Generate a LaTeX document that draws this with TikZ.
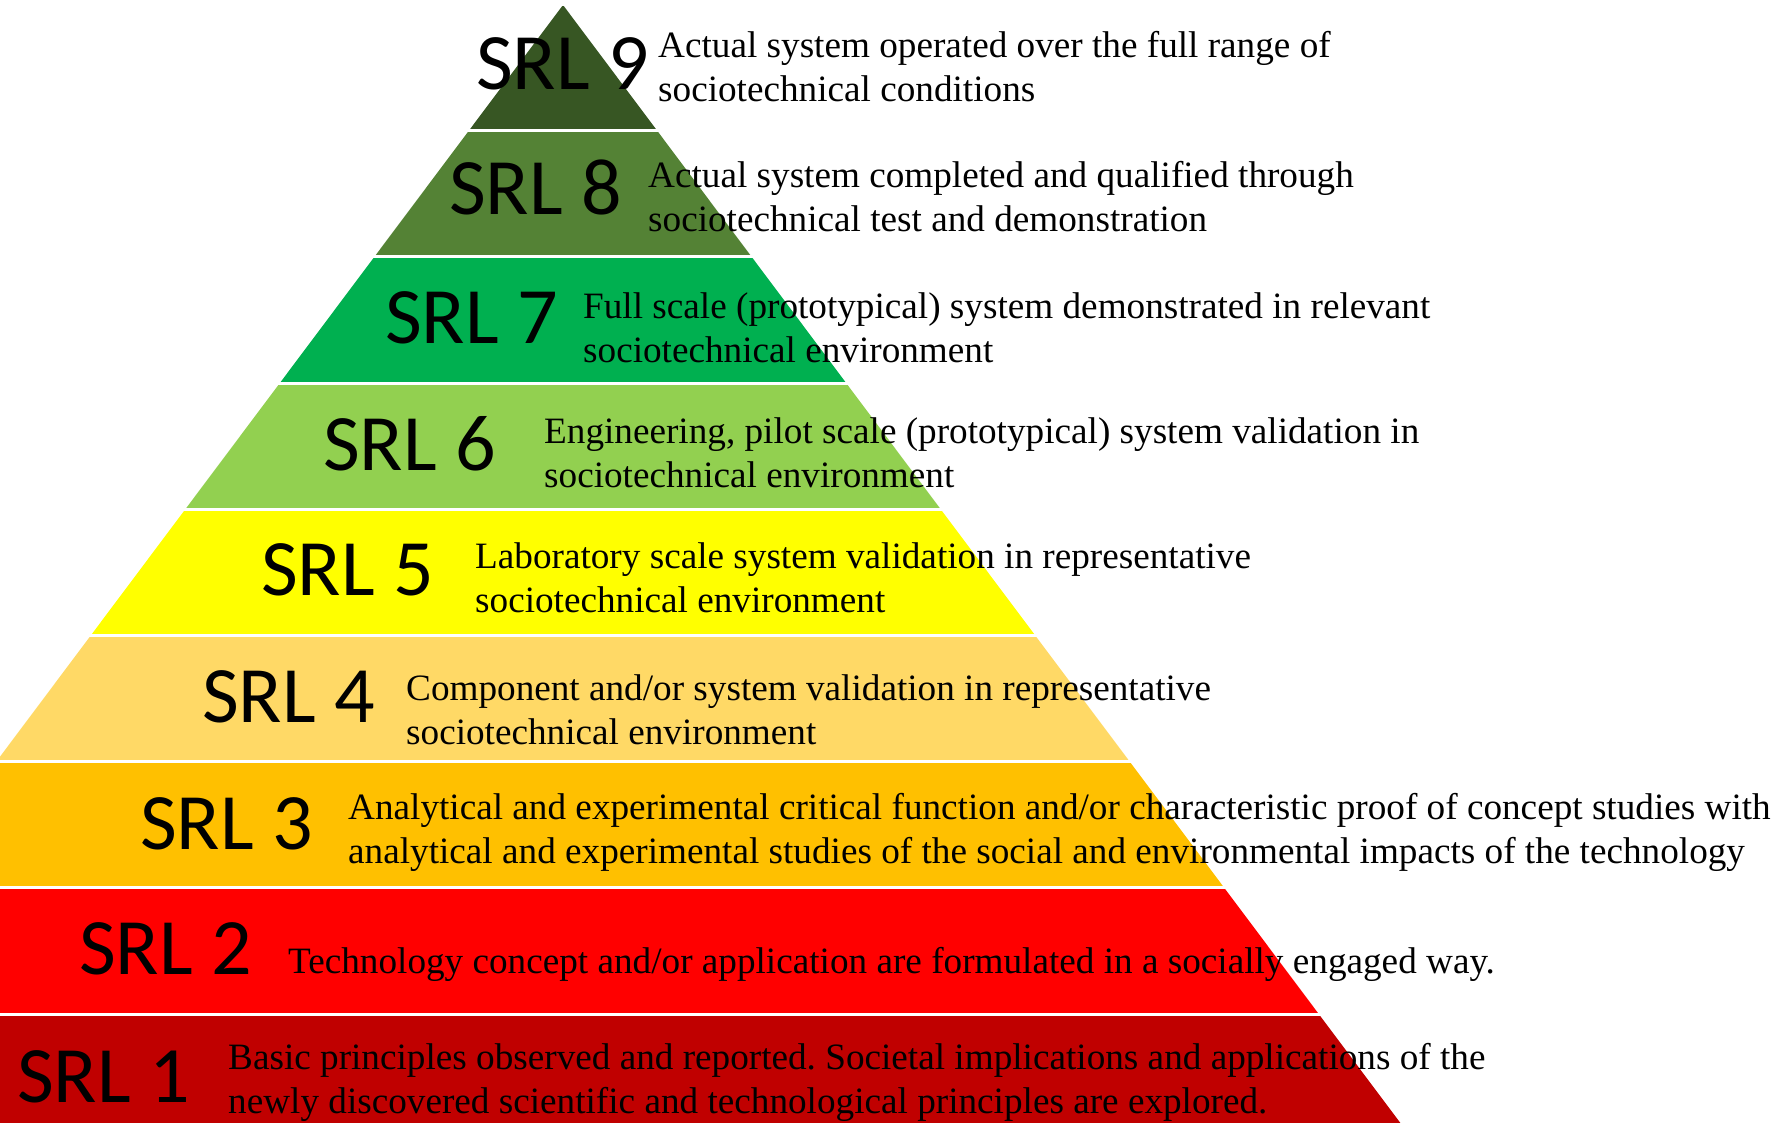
\documentclass[tikz,border=0pt]{standalone}
\usepackage{fontspec}
\setmainfont{Liberation Serif}
\newfontfamily\levelfont{Carlito}
\frenchspacing

% band colours, top (9) to bottom (1)
\definecolor{srlnine}{HTML}{375623}
\definecolor{srleight}{HTML}{548235}
\definecolor{srlseven}{HTML}{00B050}
\definecolor{srlsix}{HTML}{92D050}
\definecolor{srlfive}{HTML}{FFFF00}
\definecolor{srlfour}{HTML}{FFD966}
\definecolor{srlthree}{HTML}{FFC000}
\definecolor{srltwo}{HTML}{FF0000}
\definecolor{srlone}{HTML}{C00000}

\tikzset{
  levellabel/.style={anchor=base west, inner sep=0pt,
    font=\levelfont\fontsize{80}{96}\selectfont},
  leveltext/.style={anchor=base west, inner sep=0pt,
    font=\fontsize{37.2}{44}\selectfont},
}
\newcommand{\twolines}[2]{\begin{tabular}[t]{@{}l@{}}#1\\#2\end{tabular}}

\begin{document}
\begin{tikzpicture}[x=1pt,y=-1pt]
\useasboundingbox (0,0) rectangle (1783,1123);
\clip (0,0) rectangle (1783,1123);

% pyramid bands, separated by thin white gaps
\begin{scope}
  \clip (563,5) -- ({563+0.749*1250},1255) -- ({563-0.749*1250},1255) -- cycle;
  \foreach \c [count=\i from 0] in
    {srlnine,srleight,srlseven,srlsix,srlfive,srlfour,srlthree,srltwo,srlone} {
    \fill[\c] (-500,{4.4+126.2*\i+1.5}) rectangle (1900,{4.4+126.2*(\i+1)-1.5});
  }
\end{scope}

% level labels
\node[levellabel] (l9) at (476,90)   {SRL 9};
\node[levellabel] (l8) at (449,215)  {SRL 8};
\node[levellabel] (l7) at (385,343)  {SRL 7};
\node[levellabel] (l6) at (323,470)  {SRL 6};
\node[levellabel] (l5) at (261,595)  {SRL 5};
\node[levellabel] (l4) at (202,722)  {SRL 4};
\node[levellabel] (l3) at (140,849)  {SRL 3};
\node[levellabel] (l2) at (79,974)   {SRL 2};
\node[levellabel] (l1) at (17,1102)  {SRL 1};

% level descriptions
\node[leveltext] (t9) at (658,58) {\twolines{Actual system operated over the full range of}{sociotechnical conditions}};
\node[leveltext] (t8) at (648,188) {\twolines{Actual system completed and qualified through}{sociotechnical test and demonstration}};
\node[leveltext] (t7) at (583,319) {\twolines{Full scale (prototypical) system demonstrated in relevant}{sociotechnical environment}};
\node[leveltext] (t6) at (544,443) {\twolines{Engineering, pilot scale (prototypical) system validation in}{sociotechnical environment}};
\node[leveltext] (t5) at (475,568) {\twolines{Laboratory scale system validation in representative}{sociotechnical environment}};
\node[leveltext] (t4) at (406,700) {\twolines{Component and/or system validation in representative}{sociotechnical environment}};
\node[leveltext] (t3) at (348,819) {\twolines{Analytical and experimental critical function and/or characteristic proof of concept studies with}{analytical and experimental studies of the social and environmental impacts of the technology}};
\node[leveltext] (t2) at (288,973) {Technology concept and/or application are formulated in a socially engaged way.};
\node[leveltext] (t1) at (228,1069) {\twolines{Basic principles observed and reported. Societal implications and applications of the}{newly discovered scientific and technological principles are explored.}};
\end{tikzpicture}
\end{document}
